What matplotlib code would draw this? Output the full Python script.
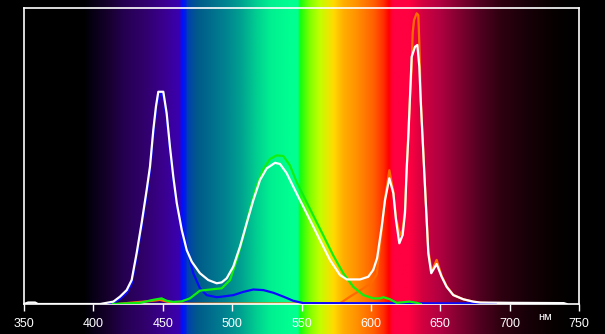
import numpy as np
import matplotlib
matplotlib.use("Agg")
import matplotlib.pyplot as plt
from matplotlib.colors import LinearSegmentedColormap

# white (total) curve
white_nm = [350, 353, 358, 360, 405, 409.6, 414.4, 419.2, 424, 427.6, 431.2, 434.8, 438.4, 440.8, 443.2, 445.1, 446.8,
            450.4, 452.8, 455.2, 457.6, 460.1, 463.7, 467.3, 470.9, 476.8, 482.8, 488.9, 492.5, 496.1, 500.8, 505.7,
            510.5, 515.3, 520.1, 524.9, 530.9, 534.5, 539.3, 544.1, 550.1, 556.1, 563.3, 570.5, 577.7, 582.6, 592.2,
            598.1, 601.7, 604.5, 607.8, 610.2, 613.3, 616.2, 618.1, 620.5, 622.9, 624.6, 625.8, 627.0, 628.2, 629.4,
            631.8, 633.5, 634.9, 635.9, 636.6, 637.8, 639.0, 640.2, 641.4, 643.5, 647.4, 651.0, 654.6, 659.4, 666.6,
            673.8, 678.6, 700, 739, 741]
white_val = [0, 0.005, 0.005, 0, 0, 0.004, 0.008, 0.025, 0.047, 0.081, 0.172, 0.274, 0.385, 0.464, 0.588, 0.667, 0.717,
             0.717, 0.645, 0.531, 0.430, 0.341, 0.25, 0.182, 0.143, 0.104, 0.081, 0.070, 0.073, 0.087, 0.126, 0.194,
             0.273, 0.351, 0.419, 0.458, 0.477, 0.473, 0.442, 0.396, 0.340, 0.284, 0.216, 0.149, 0.098, 0.083, 0.083,
             0.092, 0.115, 0.155, 0.261, 0.351, 0.425, 0.374, 0.284, 0.205, 0.233, 0.307, 0.453, 0.565, 0.700, 0.835,
             0.869, 0.875, 0.802, 0.689, 0.622, 0.509, 0.396, 0.284, 0.171, 0.104, 0.135, 0.092, 0.058, 0.030, 0.016,
             0.008, 0.005, 0.004, 0.003, 0]

# blue channel
blue_nm = [409.6, 414.4, 419.2, 424, 427.6, 431.2, 434.8, 438.4, 440.8, 443.2, 445.1, 446.8, 448.5, 450.4, 452.8,
           455.2, 457.6, 460.1, 464.6, 472.0, 476.8, 481.7, 488.9, 491.3, 500.9, 508.1, 515.3, 522.5, 529.7, 536.9,
           544.0, 551.3, 690]
blue_val = [0, 0.004, 0.018, 0.038, 0.07, 0.16, 0.26, 0.37, 0.45, 0.57, 0.65, 0.70, 0.71, 0.70, 0.63,
            0.52, 0.42, 0.33, 0.24, 0.104, 0.053, 0.030, 0.023, 0.024, 0.030, 0.041, 0.049, 0.047, 0.038, 0.025,
            0.011, 0.003, 0.002]

# green channel
green_nm = [414, 433.6, 443.2, 449.2, 452.8, 457.6, 463.7, 469.6, 476.8, 486.4, 492.5, 498.5, 503.3, 508.1, 512.9,
            517.7, 522.5, 527.3, 532.1, 536.9, 541.7, 546.5, 551.3, 558.5, 565.7, 572.9, 580.1, 587.3, 594.5, 601.7,
            606.6, 609, 613.8, 618.6, 628, 633, 636]
green_val = [0, 0.004, 0.014, 0.019, 0.011, 0.007, 0.009, 0.019, 0.045, 0.05, 0.053, 0.081, 0.149, 0.229, 0.32,
             0.399, 0.456, 0.490, 0.502, 0.500, 0.468, 0.412, 0.367, 0.299, 0.232, 0.164, 0.104, 0.058, 0.030, 0.019,
             0.019, 0.023, 0.016, 0.004, 0.008, 0.004, 0]

# red channel
red_nm = [418, 426, 436, 443, 448, 453, 460, 470, 577.7, 585, 592, 600, 604.2, 607.8, 610.2, 613.3, 616.2, 618.1,
          621, 622.9, 624.6, 625.8, 627, 628.2, 629.4, 630.1, 631.1, 633.0, 634.2, 634.9, 635.9, 636.6, 637.8, 639,
          640.2, 641.4, 643.8, 647.4, 651, 654.6, 659.4, 666.6, 673.8, 680, 690, 700]
red_val = [0, 0.004, 0.008, 0.011, 0.014, 0.008, 0.002, 0.001, 0.002, 0.025, 0.045, 0.07, 0.10, 0.25, 0.36, 0.452,
           0.38, 0.29, 0.233, 0.25, 0.32, 0.46, 0.58, 0.70, 0.80, 0.915, 0.959, 0.982, 0.976, 0.881, 0.70, 0.63,
           0.515, 0.40, 0.29, 0.18, 0.11, 0.149, 0.095, 0.06, 0.031, 0.016, 0.008, 0.004, 0.002, 0]

# spectrum background colour stops
spec_nm = [350, 393, 398, 412, 422, 439, 451, 462, 464, 466.5, 467.7, 475, 494, 506, 518, 528, 542, 547.5, 549,
           556, 563, 573, 580, 590, 602, 609, 613, 616, 628, 638, 650, 664, 679, 693, 712, 731, 748, 750]
spec_col = ["#000000", "#000000", "#050010", "#180030", "#250050", "#320070", "#3a0090", "#3a00b0", "#0010ff",
            "#0020e0", "#0040b0", "#005a8a", "#008090", "#00a090", "#00d090", "#00f090", "#00ff90", "#00ff90",
            "#10ff10", "#80ff00", "#c0ff00", "#ffdc00", "#ffb000", "#ff9000", "#ff6000", "#ff3000", "#ff0000",
            "#ff0040", "#ff0040", "#d00040", "#b00040", "#800030", "#500020", "#300010", "#180008", "#080000",
            "#000000", "#000000"]

W, H = 605, 334
fig = plt.figure(figsize=(W / 100, H / 100), dpi=100, facecolor="black")

stops = [(n - 350) / 400 for n in spec_nm]
cmap = LinearSegmentedColormap.from_list("spec", list(zip(stops, spec_col)), N=1024)
bg = fig.add_axes([24 / W, 0, 555 / W, 1])
bg.imshow(np.linspace(0, 1, 1024).reshape(1, -1), cmap=cmap, aspect="auto", extent=(350, 750, 0, 1),
          interpolation="bilinear")
bg.axis("off")

ax = fig.add_axes([24 / W, 1 - 304 / H, 555 / W, 296 / H])
ax.patch.set_alpha(0)
ax.plot(red_nm, red_val, color="#ff6a00", lw=1.6, zorder=2)
ax.plot(blue_nm, blue_val, color="#0a0aff", lw=1.6, zorder=3)
ax.plot(green_nm, green_val, color="#10f010", lw=1.6, zorder=4)
ax.plot(white_nm, white_val, color="white", lw=1.6, zorder=5)

ax.set_xlim(350, 750)
ax.set_ylim(0, 1)
ax.set_yticks([])
ax.set_xticks(range(350, 751, 50))
ax.tick_params(axis="x", colors="white", direction="out", length=5, width=1, pad=5, labelsize=9)
for lbl in ax.get_xticklabels():
    lbl.set_fontfamily("Liberation Sans")
for s in ax.spines.values():
    s.set_color("white")
    s.set_linewidth(1.2)

fig.text(545 / W, 1 - 317 / H, "нм", color="white", fontsize=8, family="Liberation Sans", ha="center", va="center")

fig.savefig("out.png", dpi=100, facecolor="black")
